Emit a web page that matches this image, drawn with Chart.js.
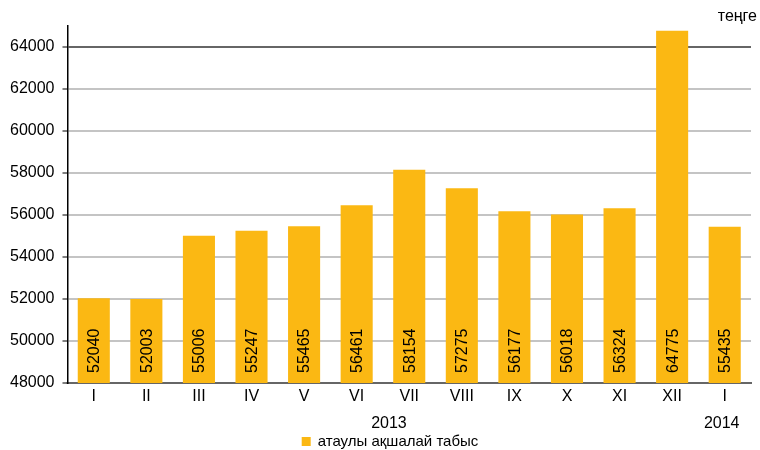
<!DOCTYPE html>
<html>
<head>
<meta charset="utf-8">
<script src="https://cdn.jsdelivr.net/npm/chart.js@4"></script>
<style>
  html, body { margin: 0; padding: 0; background: #fff; }
  #wrap { width: 760px; height: 450px; }
</style>
</head>
<body>
<div id="wrap"><canvas id="myChart"></canvas></div>
<script>
var months = ["I", "II", "III", "IV", "V", "VI", "VII", "VIII", "IX", "X", "XI", "XII", "I"];
var income = [52040, 52003, 55006, 55247, 55465, 56461, 58154, 57275, 56177, 56018, 56324, 64775, 55435];
var yTicks = [48000, 50000, 52000, 54000, 56000, 58000, 60000, 62000, 64000];
var years = ["2013", "2014"];
var seriesName = "атаулы ақшалай табыс";
var unitLabel = "теңге";

var FONT = "'Liberation Sans', Arial, sans-serif";
var BAR_COLOR = "#fbb813";

// values written upright inside each bar, year row, legend and unit
var extras = {
  id: "extras",
  afterDatasetsDraw: function (chart) {
    var ctx = chart.ctx;
    var meta = chart.getDatasetMeta(0);
    var x = chart.scales.x;
    var bottom = chart.chartArea.bottom;
    ctx.save();
    ctx.fillStyle = "#000";
    ctx.font = "16px " + FONT;
    meta.data.forEach(function (bar, i) {
      ctx.save();
      ctx.translate(bar.x, bottom - 10);
      ctx.rotate(-Math.PI / 2);
      ctx.textAlign = "left";
      ctx.textBaseline = "middle";
      ctx.fillText(String(income[i]), 0, 1);
      ctx.restore();
    });
    ctx.textAlign = "center";
    ctx.textBaseline = "middle";
    var mid2013 = (x.getPixelForValue(0) + x.getPixelForValue(11)) / 2;
    ctx.fillText(years[0], mid2013 + 6, bottom + 41);
    ctx.fillText(years[1], x.getPixelForValue(12) - 3, bottom + 41);

    // legend
    ctx.font = "15px " + FONT;
    ctx.textAlign = "left";
    var tw = ctx.measureText(seriesName).width;
    var lx = 390 - (tw + 16) / 2;
    ctx.fillStyle = BAR_COLOR;
    ctx.fillRect(lx, 437, 9, 9);
    ctx.fillStyle = "#000";
    ctx.fillText(seriesName, lx + 16, 442);

    ctx.font = "16px " + FONT;
    ctx.textAlign = "right";
    ctx.fillText(unitLabel, 757, 17);
    ctx.restore();
  }
};

var ctx = document.getElementById("myChart").getContext("2d");
var myChart = new Chart(ctx, {
  type: "bar",
  data: {
    labels: months,
    datasets: [
      {
        label: seriesName,
        data: income,
        backgroundColor: BAR_COLOR,
        borderWidth: 0,
        categoryPercentage: 1,
        barPercentage: 0.61,
      },
    ],
  },
  options: {
    responsive: true,
    maintainAspectRatio: false,
    animation: false,
    layout: { padding: { top: 26, right: 9, left: 2, bottom: 0 } },
    plugins: {
      tooltip: { enabled: false },
      legend: { display: false },
    },
    scales: {
      x: {
        grid: { display: false, drawTicks: false },
        border: { color: "#666", width: 2 },
        ticks: { color: "#000", font: { family: FONT, size: 16 }, padding: 4 },
        afterFit: function (scale) {
          scale.height = 67;
        },
      },
      y: {
        min: 48000,
        max: 65000,
        afterBuildTicks: function (scale) {
          scale.ticks = yTicks.map(function (v) { return { value: v }; });
        },
        border: { color: "#000", width: 1.5 },
        grid: {
          color: function (c) {
            if (c.tick.value === 64000) return "#666";
            if (c.tick.value === 48000) return "rgba(0,0,0,0)";
            return "#c4c4c4";
          },
          lineWidth: 2,
          tickColor: "#000",
          tickLength: 5,
          tickWidth: 1,
        },
        ticks: {
          color: "#000",
          font: { family: FONT, size: 16 },
          padding: 8,
          callback: function (v) {
            return String(v);
          },
        },
      },
    },
  },
  plugins: [extras],
});
</script>
</body>
</html>
